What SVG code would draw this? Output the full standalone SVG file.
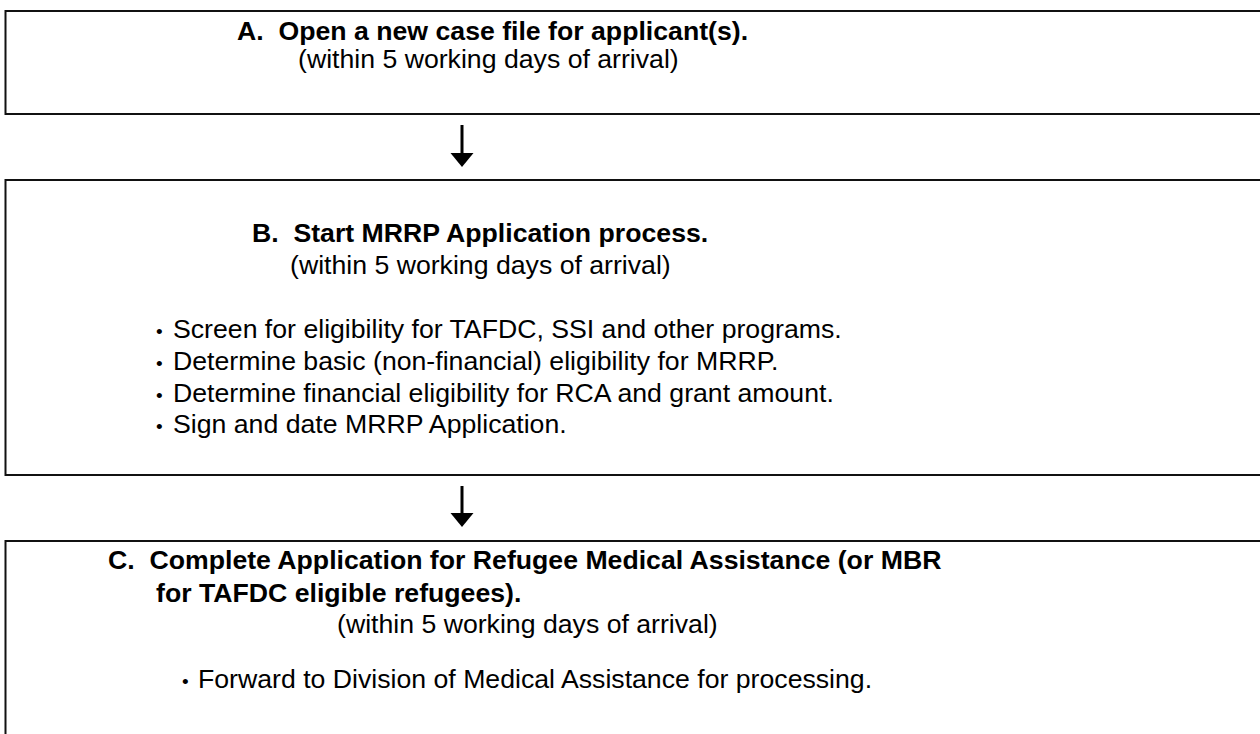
<svg xmlns="http://www.w3.org/2000/svg" width="1260" height="734" viewBox="0 0 1260 734">
<style>
.box{fill:#fff;stroke:#111;stroke-width:2}
.h{font-family:"Liberation Sans",Arial,Helvetica,sans-serif;font-size:26.67px;font-weight:bold;fill:#000}
.t{font-family:"Liberation Sans",Arial,Helvetica,sans-serif;font-size:26.67px;fill:#000}
.dot{font-size:19px}
.conn{stroke:#000;stroke-width:3;fill:none}
.head{fill:#000}
</style>
<rect width="1260" height="734" fill="#fff"/>
<g id="nodeA">
<rect class="box" x="5.5" y="11" width="1300" height="103"/>
<text class="h" x="237" y="40">A.&#160; Open a new case file for applicant(s).</text>
<text class="t" x="298" y="68">(within 5 working days of arrival)</text>
</g>
<g id="nodeB">
<rect class="box" x="5.5" y="180" width="1300" height="295"/>
<text class="h" x="252" y="242">B.&#160; Start MRRP Application process.</text>
<text class="t" x="290" y="274">(within 5 working days of arrival)</text>
<text class="t" x="156" y="338"><tspan class="dot">•</tspan><tspan x="173">Screen for eligibility for TAFDC, SSI and other programs.</tspan></text>
<text class="t" x="156" y="370"><tspan class="dot">•</tspan><tspan x="173">Determine basic (non-financial) eligibility for MRRP.</tspan></text>
<text class="t" x="156" y="401.5"><tspan class="dot">•</tspan><tspan x="173">Determine financial eligibility for RCA and grant amount.</tspan></text>
<text class="t" x="156" y="433"><tspan class="dot">•</tspan><tspan x="173">Sign and date MRRP Application.</tspan></text>
</g>
<g id="nodeC">
<rect class="box" x="5.5" y="541" width="1300" height="300"/>
<text class="h" x="108" y="569">C.&#160; Complete Application for Refugee Medical Assistance (or MBR</text>
<text class="h" x="156" y="602">for TAFDC eligible refugees).</text>
<text class="t" x="337" y="633">(within 5 working days of arrival)</text>
<text class="t" x="182" y="688"><tspan class="dot">•</tspan><tspan x="198">Forward to Division of Medical Assistance for processing.</tspan></text>
</g>
<g id="connectors">
<line class="conn" x1="462" y1="125" x2="462" y2="154"/>
<polygon class="head" points="450.5,153 473.5,153 462,167"/>
<line class="conn" x1="462" y1="486" x2="462" y2="514"/>
<polygon class="head" points="450.5,513 473.5,513 462,527"/>
</g>
</svg>
